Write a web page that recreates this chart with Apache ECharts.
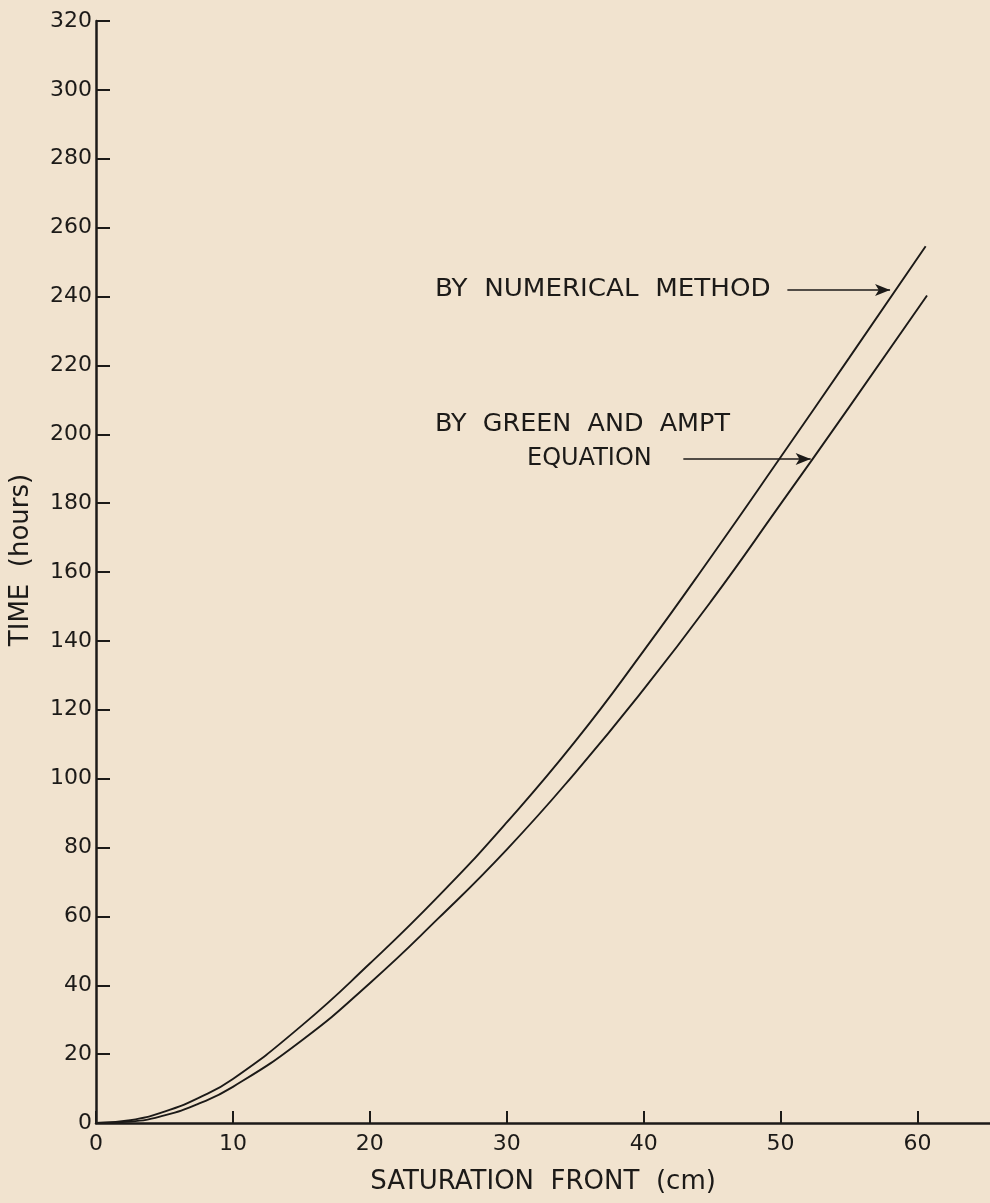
<!DOCTYPE html>
<html>
<head>
<meta charset="utf-8">
<script src="https://cdn.jsdelivr.net/npm/echarts@6/dist/echarts.min.js"></script>
<style>
html,body{margin:0;padding:0;background:#f1e3cf;}
#chart{width:990px;height:1203px;}
</style>
</head>
<body>
<div id="chart"></div>
<script>
// Saturation front (cm) vs time (hours)
const numericalX = [0, 2.5, 5, 7.5, 10, 15, 20, 25, 30, 35, 40, 45, 50, 55, 60.6];
const numericalY = [0, 0.8, 3.3, 7.3, 12.8, 28.2, 46.3, 65.8, 87.3, 110.8, 137.1, 164.8, 193.3, 222.1, 254.6];
const greenAmptX = [0, 2.5, 5, 7.5, 10, 15, 20, 25, 30, 35, 40, 45, 50, 55, 60.7];
const greenAmptY = [0, 0.4, 2.2, 5.6, 10.5, 23.9, 40.6, 59.4, 79.4, 101.7, 125.9, 151.9, 179.7, 207.8, 240.3];
const xTicks = [0, 10, 20, 30, 40, 50, 60];
const yTicks = [0, 20, 40, 60, 80, 100, 120, 140, 160, 180, 200, 220, 240, 260, 280, 300, 320];
const arrowNumerical = [[50.5, 241.9], [58.0, 241.9]];
const arrowGreen = [[42.9, 192.8], [52.2, 192.8]];

const ink = '#1c1a18';
const font = 'DejaVu Sans';
const annFont = '24px "DejaVu Sans"';

function pairs(xs, ys) { return xs.map((x, i) => [x, ys[i]]); }

const chart = echarts.init(document.getElementById('chart'), null, {renderer: 'canvas'});
chart.setOption({
  backgroundColor: '#f1e3cf',
  animation: false,
  grid: {left: 96, right: 0, top: 21, bottom: 80, containLabel: false},
  xAxis: {
    type: 'value', min: 0, max: 65.3,
    name: 'SATURATION  FRONT  (cm)', nameLocation: 'middle', nameGap: 46,
    nameTextStyle: {fontFamily: font, fontSize: 26, color: ink},
    axisLine: {lineStyle: {color: ink, width: 2.5}},
    axisTick: {inside: true, length: 12, customValues: xTicks, lineStyle: {color: ink, width: 2}},
    axisLabel: {customValues: xTicks, margin: 10, fontFamily: font, fontSize: 22, color: ink},
    splitLine: {show: false}
  },
  yAxis: {
    type: 'value', min: 0, max: 320, interval: 20,
    name: 'TIME  (hours)', nameLocation: 'middle', nameGap: 62, nameRotate: 90,
    nameTextStyle: {fontFamily: font, fontSize: 26, color: ink, padding: [0, 0, 0, 24]},
    axisLine: {lineStyle: {color: ink, width: 2.5}},
    axisTick: {inside: true, length: 14, lineStyle: {color: ink, width: 2}},
    axisLabel: {margin: 4, fontFamily: font, fontSize: 22, color: ink},
    splitLine: {show: false}
  },
  graphic: [
    {type: 'text', x: 435, y: 290, scaleX: 1.09, style: {text: 'BY  NUMERICAL  METHOD', font: annFont, fill: ink, verticalAlign: 'middle'}},
    {type: 'text', x: 435, y: 425, scaleX: 1.06, style: {text: 'BY  GREEN  AND  AMPT', font: annFont, fill: ink, verticalAlign: 'middle'}},
    {type: 'text', x: 527, y: 459, style: {text: 'EQUATION', font: annFont, fill: ink, verticalAlign: 'middle'}}
  ],
  series: [
    {
      type: 'line', name: 'By numerical method', data: pairs(numericalX, numericalY),
      smooth: 0.5, showSymbol: false, lineStyle: {color: ink, width: 1.9},
      markLine: {silent: true, symbol: ['none', 'arrow'], symbolSize: [9, 15],
        lineStyle: {color: ink, width: 1.5, type: 'solid'}, label: {show: false},
        data: [[{coord: arrowNumerical[0]}, {coord: arrowNumerical[1]}]]}
    },
    {
      type: 'line', name: 'By Green and Ampt equation', data: pairs(greenAmptX, greenAmptY),
      smooth: 0.5, showSymbol: false, lineStyle: {color: ink, width: 1.9},
      markLine: {silent: true, symbol: ['none', 'arrow'], symbolSize: [9, 15],
        lineStyle: {color: ink, width: 1.5, type: 'solid'}, label: {show: false},
        data: [[{coord: arrowGreen[0]}, {coord: arrowGreen[1]}]]}
    }
  ]
});
</script>
</body>
</html>
